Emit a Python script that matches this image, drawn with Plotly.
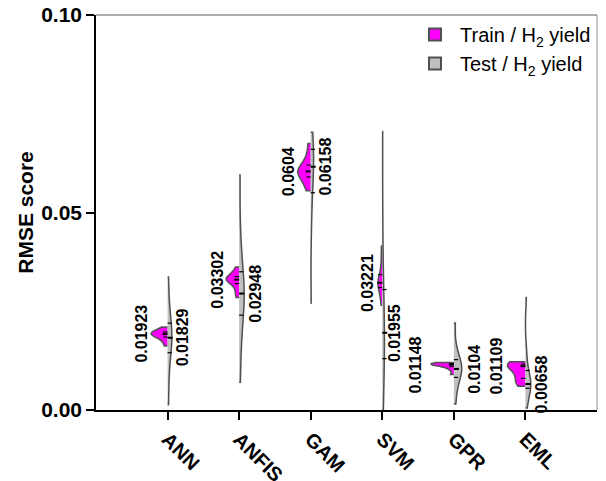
import numpy as np
import plotly.graph_objects as go

# ---------------- data ----------------
models = ["ANN", "ANFIS", "GAM", "SVM", "GPR", "EML"]

train_ann = [0.0162, 0.0175, 0.0182, 0.0187, 0.0190, 0.01923, 0.0194, 0.0196, 0.0199, 0.0203, 0.0210]
train_anfis = [0.0285, 0.0300, 0.0315, 0.0325, 0.0328, 0.03302, 0.0333, 0.0336, 0.0340, 0.0350, 0.0362]
train_gam = [0.0555, 0.0570, 0.0585, 0.0595, 0.0600, 0.0604, 0.0608, 0.0615, 0.0625, 0.0645, 0.0675]
train_svm = [0.0265, 0.0290, 0.0305, 0.0315, 0.0320, 0.03221, 0.0325, 0.0335, 0.0350, 0.0380, 0.0415]
train_gpr = [0.0090, 0.0102, 0.0108, 0.0112, 0.0114, 0.01148, 0.0116, 0.0117, 0.0118, 0.0119, 0.0120]
train_eml = [0.0060, 0.0068, 0.0075, 0.0085, 0.0100, 0.01109, 0.0113, 0.0115, 0.0117, 0.0119, 0.0122]

test_ann = [0.0013, 0.0080, 0.0130, 0.0160, 0.0175, 0.01829, 0.0190, 0.0210, 0.0230, 0.0270, 0.0337]
test_anfis = [0.0070, 0.0160, 0.0220, 0.0260, 0.0280, 0.02948, 0.0310, 0.0330, 0.0370, 0.0450, 0.0595]
test_gam = [0.0270, 0.0450, 0.0530, 0.0570, 0.0600, 0.06158, 0.0630, 0.0650, 0.0670, 0.0690, 0.0703]
test_svm = [0.0001, 0.0060, 0.0110, 0.0150, 0.0180, 0.01955, 0.0220, 0.0270, 0.0340, 0.0480, 0.0705]
test_gpr = [0.0015, 0.0050, 0.0075, 0.0090, 0.0100, 0.0104, 0.0110, 0.0120, 0.0135, 0.0160, 0.0220]
test_eml = [0.0005, 0.0030, 0.0050, 0.0060, 0.0063, 0.00658, 0.0075, 0.0090, 0.0110, 0.0150, 0.0285]

train_sets = [train_ann, train_anfis, train_gam, train_svm, train_gpr, train_eml]
test_sets = [test_ann, test_anfis, test_gam, test_svm, test_gpr, test_eml]

train_labels = [0.01923, 0.03302, 0.0604, 0.03221, 0.01148, 0.01109]
test_labels = [0.01829, 0.02948, 0.06158, 0.01955, 0.0104, 0.00658]

y_ticks = [0.00, 0.05, 0.10]

# ---------------- styles ----------------
TRAIN_COLOR = "#ff00ff"
TEST_COLOR = "#c0c0c0"
OUTLINE = "#505050"
FONT = "Liberation Sans, Arial, sans-serif"
train_width = [0.46, 0.36, 0.36, 0.12, 0.64, 0.50]
test_width = [0.12, 0.14, 0.08, 0.06, 0.22, 0.15]
train_shift = [-27, -22, -22, -15, -38, -29]
test_shift = [15, 16, 15, 12, 21, 16]

fig = go.Figure()

for i, m in enumerate(models):
    fig.add_trace(go.Violin(
        y=train_sets[i], x0=i, name="Train / H<sub>2</sub> yield",
        legendgroup="train", showlegend=(i == 0), side="negative",
        width=train_width[i], spanmode="hard", points=False,
        fillcolor=TRAIN_COLOR, line=dict(color=OUTLINE, width=1.5),
        box=dict(visible=False), meanline=dict(visible=False),
        hoverinfo="skip", opacity=1))
    fig.add_trace(go.Violin(
        y=test_sets[i], x0=i, name="Test / H<sub>2</sub> yield",
        legendgroup="test", showlegend=(i == 0), side="positive",
        width=test_width[i], spanmode="hard", points=False,
        fillcolor=TEST_COLOR, line=dict(color=OUTLINE, width=1.5),
        box=dict(visible=False), meanline=dict(visible=False),
        hoverinfo="skip", opacity=1))

# quartile / median markers
for sets, sgn in ((train_sets, -1), (test_sets, 1)):
    xs_med, ys_med, xs_q, ys_q = [], [], [], []
    for i, s in enumerate(sets):
        q1, med, q3 = np.percentile(s, [25, 50, 75])
        xs_med += [i, i + sgn * 0.07, None]
        ys_med += [med, med, None]
        for q in (q1, q3):
            xs_q += [i, i + sgn * 0.06, None]
            ys_q += [q, q, None]
    fig.add_trace(go.Scatter(x=xs_med, y=ys_med, mode="lines", showlegend=False,
                             line=dict(color="black", width=2), hoverinfo="skip"))
    fig.add_trace(go.Scatter(x=xs_q, y=ys_q, mode="lines", showlegend=False,
                             line=dict(color="black", width=1.2, dash="dash"), hoverinfo="skip"))

# value labels
for i in range(len(models)):
    fig.add_annotation(x=i, y=train_labels[i], text=f"{train_labels[i]}", textangle=-90,
                       showarrow=False, xshift=train_shift[i], xanchor="center", yanchor="middle",
                       font=dict(family=FONT, size=16, color="black", weight="bold"))
    fig.add_annotation(x=i, y=test_labels[i], text=f"{test_labels[i]}", textangle=-90,
                       showarrow=False, xshift=test_shift[i], xanchor="center", yanchor="middle",
                       font=dict(family=FONT, size=16, color="black", weight="bold"))

# frame (top & right)
fig.add_shape(type="line", xref="paper", yref="paper", x0=0, x1=1, y0=1, y1=1,
              line=dict(color="#606060", width=1))
fig.add_shape(type="line", xref="paper", yref="paper", x0=1, x1=1, y0=0, y1=1,
              line=dict(color="#909090", width=1))

fig.update_layout(
    width=606, height=481,
    margin=dict(l=96, r=9, t=15, b=71, autoexpand=False),
    paper_bgcolor="white", plot_bgcolor="white",
    font=dict(family=FONT, color="black"),
    violingap=0, violinmode="overlay",
    legend=dict(x=0.998, y=1.0, xanchor="right", yanchor="top",
                bgcolor="rgba(0,0,0,0)", borderwidth=0,
                font=dict(family=FONT, size=20, color="black"),
                tracegroupgap=0, itemsizing="constant", itemwidth=40),
    xaxis=dict(
        range=[-1, 6], tickmode="array", tickvals=list(range(len(models))), ticktext=models,
        tickangle=45, ticks="outside", ticklen=8, tickwidth=1.5, tickcolor="black",
        showline=True, linecolor="black", linewidth=1.5, showgrid=False, zeroline=False,
        automargin=False, ticklabeloverflow="allow",
        tickfont=dict(family=FONT, size=20, color="black", weight="bold")),
    yaxis=dict(
        range=[0, 0.10], tickmode="array", tickvals=y_ticks,
        ticktext=[f"{v:.2f}" for v in y_ticks],
        ticks="outside", ticklen=8, tickwidth=1.5, tickcolor="black",
        showline=True, linecolor="black", linewidth=1.5, showgrid=False, zeroline=False,
        automargin=False, ticklabeloverflow="allow",
        tickfont=dict(family=FONT, size=21, color="black", weight="bold"),
        title=dict(text="RMSE score", standoff=2,
                   font=dict(family=FONT, size=21, color="black", weight="bold"))),
)

# remove the browser's default page margin so the figure starts at the window corner
fig.write_html("out.html", config={"displayModeBar": False},
               post_script="document.body.style.margin='0';")
